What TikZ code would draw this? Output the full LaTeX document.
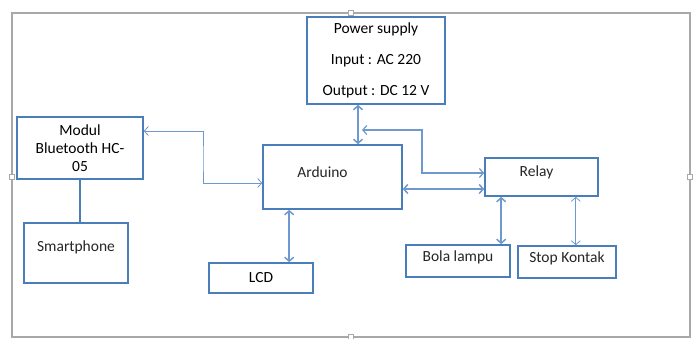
\documentclass[tikz,border=0pt]{standalone}
\usepackage{fontspec}
\setmainfont{Carlito}
\usepackage{tikz}
\usetikzlibrary{arrows.meta, positioning, calc}
\definecolor{boxblue}{HTML}{4A7EBB}
\definecolor{linkblue}{HTML}{6F98CF}
\definecolor{framegray}{HTML}{A8A8A8}

\begin{document}
\begin{tikzpicture}[x=1pt, y=-1pt,
  box/.style={draw=boxblue, line width=1.6pt, fill=white, align=center,
              inner sep=2pt, font=\fontsize{15.5}{18}\selectfont},
  lab/.style={font=\fontsize{15.5}{18}\selectfont, text=black!85},
  arr/.style={{Straight Barb[length=4pt,width=9pt]}-{Straight Barb[length=4pt,width=9pt]},
              draw=linkblue, line width=1.5pt},
  tarr/.style={arr, line width=0.8pt},
  link/.style={draw=boxblue, line width=1.4pt},
  handle/.style={draw=framegray, fill=white, line width=0.5pt, minimum size=5pt,
                 inner sep=0pt},
]
\useasboundingbox (0,0) rectangle (697,339);

% ---- Frame -----------------------------------------------------------------
\draw[framegray, line width=1.2pt] (12,13) rectangle (690,337);
\foreach \hx/\hy in {351/13, 12/177, 690/177, 351/337} {
  \node[handle] at (\hx,\hy) {};
}

% ---- Blocks ----------------------------------------------------------------
\node[box, minimum width=138pt, minimum height=87pt] (power) at (376,60.5)
  {Power supply\\[13pt]Input : AC 220\\[13pt]Output : DC 12 V};
\node[box, minimum width=126pt, minimum height=62pt] (bt) at (80,148)
  {Modul\\Bluetooth HC-\\05};
\node[box, minimum width=104pt, minimum height=60pt] (phone) at (76,253) {};
\node[lab] at ([yshift=6pt]phone.center) {Smartphone};
\node[box, minimum width=139pt, minimum height=64pt] (ard) at (332.5,177) {};
\node[lab] at ([xshift=-10pt, yshift=5pt]ard.center) {Arduino};
\node[box, minimum width=104pt, minimum height=30pt] (lcd) at (261,278) {LCD};
\node[box, minimum width=113pt, minimum height=38pt] (relay) at (541.5,177) {};
\node[lab] at ([xshift=-5pt, yshift=5pt]relay.center) {Relay};
\node[box, minimum width=104pt, minimum height=32pt] (bola) at (458,261) {};
\node[lab] at ([yshift=4pt]bola.center) {Bola lampu};
\node[box, minimum width=98pt, minimum height=32pt] (stop) at (567,262) {};
\node[lab] at ([yshift=4pt]stop.center) {Stop Kontak};

% ---- Connectors ------------------------------------------------------------
\coordinate (btmid) at (203,160);
\draw[tarr] ([yshift=17pt]bt.east) -| (btmid) |- ([yshift=-6pt]ard.west);
\draw[link] (bt.south) -- (bt.south |- phone.north);

\coordinate (psdn) at ([xshift=-18pt]power.south);
\draw[arr] (psdn) -- (psdn |- ard.north);

\coordinate (pstap) at (362,130);
\coordinate (relin) at ([yshift=4pt]relay.west);
\draw[arr, line width=1.2pt] (pstap) -| (422,150) |- (relin);

\coordinate (relard) at ([yshift=-12pt]relay.west);
\draw[arr] (relard -| ard.east) -- (relard);

\coordinate (ardlcd) at ([xshift=27pt]ard.south west);
\draw[arr] (ardlcd) -- (ardlcd |- lcd.north);

\coordinate (relbola) at ([xshift=17pt]relay.south west);
\draw[arr] (relbola) -- (relbola |- bola.north);

\coordinate (relstop) at ([xshift=-23pt]relay.south east);
\draw[tarr] (relstop) -- (relstop |- stop.north);

\end{tikzpicture}
\end{document}
